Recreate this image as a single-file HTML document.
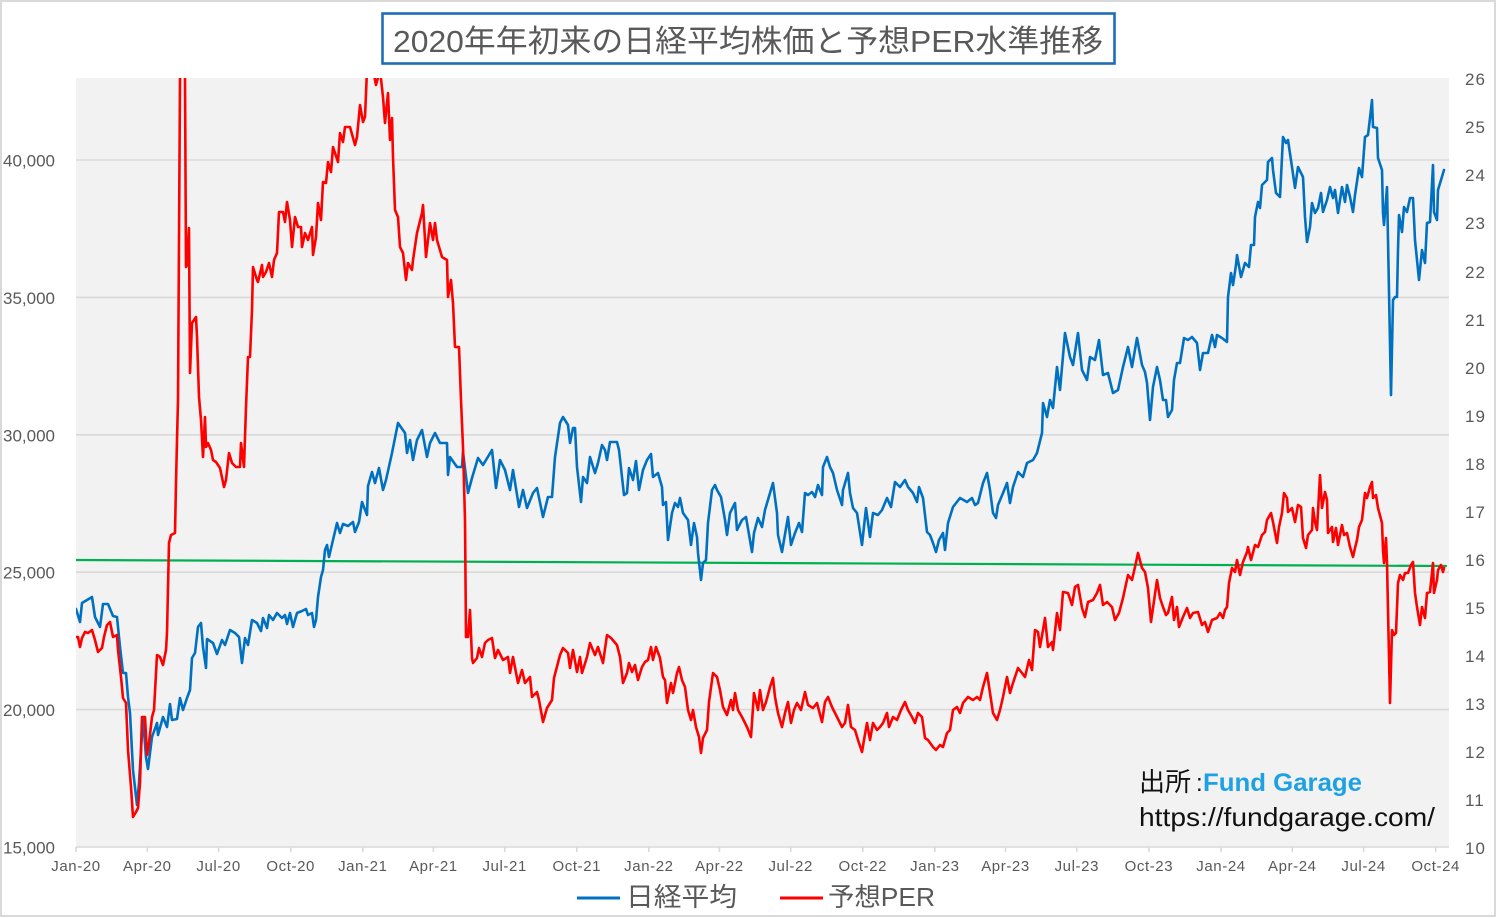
<!DOCTYPE html>
<html><head><meta charset="utf-8"><style>
html,body{margin:0;padding:0;background:#fff;}
svg{display:block;}
text{font-family:"Liberation Sans","Noto Sans CJK JP",sans-serif;}
</style></head><body>
<svg width="1497" height="918" viewBox="0 0 1497 918" xmlns="http://www.w3.org/2000/svg">
<defs><clipPath id="pc"><rect x="76" y="78" width="1373" height="769"/></clipPath></defs>
<rect x="0" y="0" width="1497" height="918" fill="#fff"/>
<rect x="1" y="1" width="1494" height="915" fill="none" stroke="#d9d9d9" stroke-width="2"/>
<rect x="76" y="78" width="1373" height="769" fill="#f2f2f2"/>
<g stroke="#d9d9d9" stroke-width="1.6">
<line x1="76" y1="160" x2="1449" y2="160"/>
<line x1="76" y1="297.4" x2="1449" y2="297.4"/>
<line x1="76" y1="434.8" x2="1449" y2="434.8"/>
<line x1="76" y1="572.2" x2="1449" y2="572.2"/>
<line x1="76" y1="709.6" x2="1449" y2="709.6"/>
<line x1="76" y1="847" x2="1449" y2="847"/>
<line x1="76" y1="847" x2="76" y2="852"/><line x1="147.3" y1="847" x2="147.3" y2="852"/><line x1="218.6" y1="847" x2="218.6" y2="852"/><line x1="290.7" y1="847" x2="290.7" y2="852"/><line x1="362.8" y1="847" x2="362.8" y2="852"/><line x1="433.4" y1="847" x2="433.4" y2="852"/><line x1="504.7" y1="847" x2="504.7" y2="852"/><line x1="576.8" y1="847" x2="576.8" y2="852"/><line x1="648.9" y1="847" x2="648.9" y2="852"/><line x1="719.4" y1="847" x2="719.4" y2="852"/><line x1="790.7" y1="847" x2="790.7" y2="852"/><line x1="862.8" y1="847" x2="862.8" y2="852"/><line x1="934.9" y1="847" x2="934.9" y2="852"/><line x1="1005.5" y1="847" x2="1005.5" y2="852"/><line x1="1076.8" y1="847" x2="1076.8" y2="852"/><line x1="1148.9" y1="847" x2="1148.9" y2="852"/><line x1="1221" y1="847" x2="1221" y2="852"/><line x1="1292.3" y1="847" x2="1292.3" y2="852"/><line x1="1363.6" y1="847" x2="1363.6" y2="852"/><line x1="1435.7" y1="847" x2="1435.7" y2="852"/>
</g>
<g clip-path="url(#pc)" fill="none" stroke-linejoin="round" stroke-linecap="round">
<line x1="76" y1="560" x2="1446" y2="566" stroke="#00b050" stroke-width="2.2"/>
<polyline stroke="#0070c0" stroke-width="2.6" points="76,609 80,622 82,603 92,597 95,617 100,627 103,604 108,604 113,616 117,617 120,647 123,673 126,673 128,697 130,713 133,770 137,805 139,783 143,717 146,757 148,769 152,737 157,723 158,735 163,717 167,727 170,704 172,720 177,719 180,698 183,710 187,698 190,690 192,658 195,653 198,627 201,623 203,647 206,668 207,639 213,643 217,654 222,640 225,645 230,630 235,633 239,637 242,663 245,638 248,645 252,620 257,623 261,631 263,618 267,628 269,615 273,620 277,613 282,618 285,615 287,624 290,613 293,627 297,613 302,611 306,609 308,615 312,613 314,627 316,620 318,597 321,577 323,570 325,550 327,545 329,557 333,540 337,523 340,533 343,524 348,526 353,522 355,532 359,522 362,502 367,515 368,486 372,472 375,483 379,468 383,490 386,480 392,453 398,423 405,433 407,453 410,440 413,460 417,440 422,430 427,457 430,443 435,433 440,443 447,443 448,475 450,457 457,467 462,467 463,452 468,493 472,478 478,458 483,465 492,450 496,488 500,460 505,470 510,490 513,470 519,507 523,490 527,508 533,493 537,488 543,517 548,497 552,497 555,457 560,423 563,417 568,425 570,443 573,428 575,428 577,467 581,502 583,477 587,483 590,457 595,473 598,463 602,445 605,450 607,460 610,442 617,442 619,450 624,495 627,493 629,468 633,480 636,461 639,490 643,470 647,460 651,454 653,477 658,473 662,487 663,505 666,502 668,540 672,513 675,503 678,507 680,498 683,513 688,520 691,545 694,523 697,537 698,553 701,580 703,563 706,560 708,523 712,490 715,485 717,490 721,497 725,520 727,535 730,513 735,503 737,530 742,520 746,517 752,552 754,533 758,518 762,527 765,510 770,493 773,483 777,513 778,535 782,552 784,540 788,517 791,545 795,533 799,523 802,532 805,493 808,495 812,492 815,497 818,485 822,495 823,467 827,457 830,467 833,473 837,490 842,505 843,490 848,473 850,493 853,508 857,513 862,545 866,508 870,537 873,513 878,515 882,510 887,498 891,507 895,482 900,487 905,480 908,487 913,493 917,502 919,487 923,498 927,532 930,535 933,543 936,552 939,540 943,533 945,550 948,523 953,507 960,498 967,502 972,498 975,505 978,503 983,483 987,473 990,490 993,513 996,518 998,505 1003,493 1007,483 1010,503 1013,487 1018,472 1023,477 1027,463 1033,460 1037,453 1042,433 1043,403 1047,417 1050,400 1053,408 1057,367 1060,390 1065,333 1070,357 1073,365 1078,333 1082,370 1087,380 1090,357 1095,360 1099,340 1103,375 1108,373 1113,393 1118,390 1123,367 1128,347 1132,367 1137,338 1142,365 1145,372 1147,383 1150,420 1153,387 1157,367 1160,380 1163,400 1166,400 1168,417 1172,410 1174,380 1177,363 1180,363 1184,338 1188,340 1192,337 1197,343 1200,370 1203,353 1208,353 1212,335 1215,347 1217,335 1222,338 1227,342 1228,297 1231,273 1233,285 1236,265 1237,255 1241,277 1245,263 1249,267 1251,245 1254,245 1255,217 1258,202 1260,208 1262,185 1267,180 1268,162 1272,158 1273,170 1276,193 1280,197 1283,137 1286,143 1288,140 1292,167 1295,188 1298,167 1303,177 1305,217 1307,242 1310,227 1312,203 1315,213 1318,208 1321,193 1323,212 1327,200 1330,187 1333,198 1335,190 1338,213 1342,187 1345,202 1347,185 1350,197 1353,212 1355,195 1359,168 1362,177 1365,137 1368,135 1370,118 1372,100 1373,127 1377,128 1378,158 1382,170 1383,213 1384,225 1387,187 1388,240 1391,395 1393,300 1395,297 1397,297 1398,250 1399,215 1402,232 1404,207 1407,212 1410,198 1413,198 1415,240 1417,260 1419,280 1422,250 1425,263 1427,223 1430,222 1433,165 1434,212 1437,220 1438,190 1441,180 1444,170"/>
<polyline stroke="#ff0000" stroke-width="2.6" points="76,637 78,637 80,647 82,638 85,632 88,633 92,630 95,640 98,652 102,648 104,637 107,625 110,622 113,637 117,635 118,650 121,677 123,698 126,703 128,750 131,787 133,817 136,812 138,808 140,783 142,717 145,717 147,755 149,743 152,717 154,710 157,655 160,657 163,665 166,650 167,633 169,543 171,535 175,533 176,483 177,440 178,400 180,78 182,60 184,60 185,78 186,267 187,265 189,228 190,373 192,323 196,317 197,337 199,397 201,420 203,457 205,417 206,447 208,443 211,450 213,460 216,462 220,468 224,487 226,480 229,453 232,463 236,467 240,467 241,443 244,467 246,407 248,357 250,357 252,310 253,267 257,280 258,282 262,265 263,277 266,272 269,263 272,277 274,260 277,253 279,212 283,212 285,222 287,202 290,220 292,247 295,217 298,227 301,227 302,247 305,233 308,240 312,227 313,255 316,237 318,203 321,220 323,182 326,183 328,162 331,172 333,147 338,162 340,133 343,142 345,127 350,127 355,145 357,137 360,105 363,122 365,117 367,70 369,70 373,70 376,85 380,70 383,97 385,123 388,93 390,140 392,118 393,157 395,210 398,217 400,247 403,253 406,280 408,263 412,270 413,260 417,233 422,213 423,205 426,257 430,223 433,240 435,223 437,240 442,257 447,260 448,297 451,280 453,303 455,347 459,347 461,400 463,447 465,520 466,637 468,637 470,610 472,658 473,663 477,658 479,648 482,657 485,643 488,640 492,638 495,658 498,650 503,660 508,657 510,673 513,657 518,683 522,670 525,683 530,677 532,697 537,692 539,700 543,722 547,708 552,700 554,678 560,655 563,648 568,653 570,668 573,650 577,672 580,657 582,673 587,657 590,643 595,655 598,647 603,663 607,635 611,638 617,645 620,657 623,683 627,673 629,663 632,672 635,665 638,680 642,667 645,662 648,660 651,647 653,660 656,647 660,658 663,677 665,680 667,703 671,683 673,693 677,673 679,667 682,680 685,687 688,710 691,720 693,710 696,727 699,737 701,753 703,738 707,730 709,702 713,673 717,677 720,690 723,707 727,715 731,700 733,710 735,693 738,710 742,717 747,727 751,737 754,693 758,710 760,690 763,710 766,702 770,687 773,678 775,697 778,713 782,727 785,713 788,702 791,723 794,710 797,703 801,710 805,692 808,705 813,708 817,703 822,722 825,702 828,697 832,707 837,717 842,727 845,723 848,705 851,727 855,730 858,740 862,752 864,740 867,723 870,740 873,723 877,730 880,727 883,723 887,713 889,727 893,717 897,720 901,710 905,702 908,710 912,717 915,723 918,713 922,717 925,738 928,740 933,747 936,750 940,745 943,747 947,733 950,730 953,710 957,707 960,713 963,703 968,697 973,700 977,697 980,700 983,687 987,673 990,693 993,713 997,720 1000,710 1003,697 1007,677 1010,693 1013,683 1018,668 1022,673 1025,677 1029,660 1032,670 1035,630 1038,632 1040,647 1043,630 1045,618 1048,647 1052,642 1053,650 1057,613 1060,630 1063,592 1068,593 1072,605 1075,587 1078,585 1082,608 1085,617 1088,602 1093,600 1097,593 1100,585 1103,605 1107,602 1112,607 1115,620 1119,613 1123,598 1128,575 1132,580 1135,567 1138,553 1142,568 1145,572 1148,588 1151,622 1153,608 1157,580 1160,598 1163,607 1166,615 1168,613 1172,597 1174,620 1177,607 1179,627 1183,617 1187,608 1190,618 1193,613 1198,612 1202,625 1205,622 1208,632 1212,620 1217,618 1220,613 1223,618 1225,610 1227,607 1229,583 1232,568 1235,572 1237,560 1240,575 1243,562 1247,552 1248,547 1251,560 1255,545 1258,547 1262,535 1265,532 1267,520 1271,513 1273,522 1277,543 1279,527 1282,513 1284,493 1287,498 1288,512 1292,508 1295,522 1298,505 1301,507 1303,538 1306,548 1308,535 1312,530 1313,508 1315,522 1317,530 1320,475 1322,508 1325,492 1327,500 1328,533 1332,527 1333,542 1336,528 1338,545 1342,525 1344,535 1347,533 1350,547 1353,557 1355,548 1357,540 1359,527 1362,520 1365,493 1367,498 1370,487 1372,482 1373,498 1376,495 1378,508 1382,523 1383,550 1384,563 1386,538 1387,563 1390,703 1392,630 1394,635 1396,633 1398,583 1400,575 1403,580 1405,573 1408,573 1411,565 1413,562 1415,593 1417,607 1420,625 1422,607 1425,618 1427,593 1430,592 1433,563 1434,593 1437,580 1438,570 1441,565 1443,572 1444,568"/>
</g>
<!-- left axis labels -->
<g fill="#595959" font-size="17" text-anchor="end">
<text x="55" y="166.5">40,000</text>
<text x="55" y="303.9">35,000</text>
<text x="55" y="441.3">30,000</text>
<text x="55" y="578.7">25,000</text>
<text x="55" y="716.1">20,000</text>
<text x="55" y="853.5">15,000</text>
</g>
<!-- right axis labels -->
<g fill="#595959" font-size="17" letter-spacing="1">
<text x="1465" y="85">26</text>
<text x="1465" y="133">25</text>
<text x="1465" y="181">24</text>
<text x="1465" y="229">23</text>
<text x="1465" y="278">22</text>
<text x="1465" y="326">21</text>
<text x="1465" y="374">20</text>
<text x="1465" y="422">19</text>
<text x="1465" y="470">18</text>
<text x="1465" y="518">17</text>
<text x="1465" y="566">16</text>
<text x="1465" y="614">15</text>
<text x="1465" y="662">14</text>
<text x="1465" y="710">13</text>
<text x="1465" y="758">12</text>
<text x="1465" y="806">11</text>
<text x="1465" y="854">10</text>
</g>
<!-- x labels -->
<g fill="#595959" font-size="15" letter-spacing="0.6" text-anchor="middle">
<text x="76" y="871">Jan-20</text>
<text x="147.3" y="871">Apr-20</text>
<text x="218.6" y="871">Jul-20</text>
<text x="290.7" y="871">Oct-20</text>
<text x="362.8" y="871">Jan-21</text>
<text x="433.4" y="871">Apr-21</text>
<text x="504.7" y="871">Jul-21</text>
<text x="576.8" y="871">Oct-21</text>
<text x="648.9" y="871">Jan-22</text>
<text x="719.4" y="871">Apr-22</text>
<text x="790.7" y="871">Jul-22</text>
<text x="862.8" y="871">Oct-22</text>
<text x="934.9" y="871">Jan-23</text>
<text x="1005.5" y="871">Apr-23</text>
<text x="1076.8" y="871">Jul-23</text>
<text x="1148.9" y="871">Oct-23</text>
<text x="1221" y="871">Jan-24</text>
<text x="1292.3" y="871">Apr-24</text>
<text x="1363.6" y="871">Jul-24</text>
<text x="1435.7" y="871">Oct-24</text>
</g>
<!-- title -->
<rect x="382.5" y="13.5" width="732" height="50" fill="#fff" stroke="#1f6db5" stroke-width="2.6"/>
<text x="393" y="52" font-size="31" fill="#595959" textLength="710" lengthAdjust="spacingAndGlyphs">2020年年初来の日経平均株価と予想PER水準推移</text>
<!-- legend -->
<line x1="577" y1="898" x2="620" y2="898" stroke="#0070c0" stroke-width="3"/>
<text x="626" y="906" font-size="26" fill="#595959" textLength="111" lengthAdjust="spacingAndGlyphs">日経平均</text>
<line x1="780" y1="898" x2="823" y2="898" stroke="#ff0000" stroke-width="3"/>
<text x="828" y="906" font-size="26" fill="#595959" textLength="107" lengthAdjust="spacingAndGlyphs">予想PER</text>
<!-- source -->
<text x="1139" y="791" font-size="26" fill="#111">出所</text>
<text x="1196" y="791" font-size="24" fill="#111">:</text>
<text x="1203" y="791" font-size="25" font-weight="bold" fill="#1da1e2" textLength="159" lengthAdjust="spacingAndGlyphs">Fund Garage</text>
<text x="1139" y="826" font-size="26" fill="#111" textLength="296" lengthAdjust="spacingAndGlyphs">https://fundgarage.com/</text>
</svg>
</body></html>
